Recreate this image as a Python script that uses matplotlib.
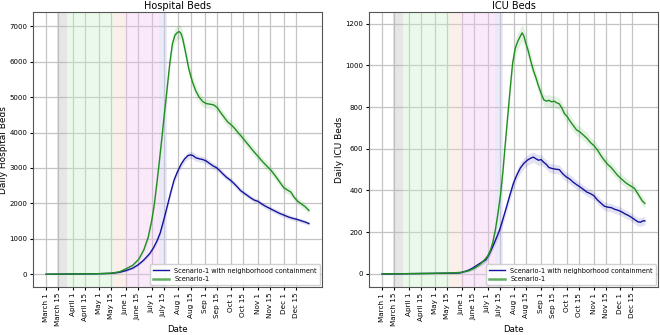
import matplotlib
matplotlib.use("Agg")
import matplotlib.pyplot as plt

# days counted from March 1
tick_days = [0, 14, 31, 45, 61, 75, 92, 106, 122, 136, 153, 167, 184, 198, 214, 228, 245, 259, 275, 289]
tick_labels = ["March 1", "March 15", "April 1", "April 15", "May 1", "May 15", "June 1", "June 15",
               "July 1", "July 15", "Aug 1", "Aug 15", "Sep 1", "Sep 15", "Oct 1", "Oct 15",
               "Nov 1", "Nov 15", "Dec 1", "Dec 15"]

# shaded phases (start day, end day, colour)
phases = [(13, 24, "#b8b8b8"), (24, 77, "#c4efc4"), (77, 92, "#f6d6c0"),
          (92, 131, "#f0c0f0"), (131, 140, "#c8c4f0")]

# (day, value, band half width)
hosp_contain = [
    (0, 0, 10), (20, 5, 10), (40, 10, 10), (60, 15, 10), (75, 25, 15), (85, 55, 20), (92, 100, 25),
    (100, 170, 30), (106, 260, 35), (112, 380, 40), (116, 480, 45), (120, 590, 50), (124, 740, 60),
    (128, 930, 70), (132, 1170, 80), (136, 1530, 90), (140, 1910, 100), (144, 2300, 100),
    (148, 2660, 100), (152, 2900, 100), (156, 3100, 100), (160, 3250, 100), (164, 3350, 100),
    (167, 3370, 100), (170, 3350, 100), (173, 3290, 100), (177, 3260, 90), (181, 3240, 90),
    (185, 3200, 90), (189, 3130, 90), (193, 3060, 90), (197, 3010, 90), (201, 2920, 80),
    (205, 2820, 80), (209, 2730, 80), (213, 2660, 80), (217, 2570, 80), (221, 2470, 80),
    (225, 2360, 80), (229, 2290, 70), (233, 2220, 70), (237, 2150, 70), (241, 2090, 70),
    (245, 2060, 70), (249, 1990, 70), (253, 1930, 70), (257, 1880, 70), (261, 1830, 70),
    (265, 1780, 70), (270, 1720, 70), (275, 1670, 70), (280, 1620, 70), (285, 1580, 60),
    (290, 1550, 60), (295, 1510, 60), (300, 1470, 60), (304, 1430, 60)]

hosp_s1 = [
    (0, 0, 10), (20, 5, 10), (40, 10, 10), (60, 15, 10), (75, 30, 15), (85, 70, 20), (92, 150, 25),
    (100, 250, 35), (107, 420, 50), (113, 690, 70), (118, 1040, 90), (122, 1500, 110),
    (125, 1950, 125), (128, 2550, 140), (131, 3200, 150), (134, 3880, 160), (137, 4580, 170),
    (140, 5250, 180), (143, 5950, 190), (146, 6500, 200), (149, 6750, 200), (152, 6830, 200),
    (154, 6850, 200), (156, 6800, 200), (158, 6650, 200), (161, 6300, 190), (165, 5800, 180),
    (169, 5450, 170), (173, 5180, 160), (177, 5000, 150), (181, 4880, 140), (185, 4820, 130),
    (190, 4800, 130), (194, 4780, 130), (198, 4700, 130), (202, 4560, 130), (206, 4430, 130),
    (210, 4300, 130), (214, 4220, 130), (218, 4120, 130), (222, 4000, 130), (226, 3890, 130),
    (230, 3770, 130), (235, 3620, 120), (240, 3470, 120), (245, 3330, 120), (250, 3190, 120),
    (255, 3060, 120), (260, 2940, 120), (265, 2780, 110), (270, 2610, 110), (275, 2440, 110),
    (279, 2380, 110), (283, 2320, 110), (287, 2170, 100), (291, 2060, 100), (295, 1990, 100),
    (300, 1900, 100), (304, 1800, 100)]

icu_contain = [
    (0, 0, 3), (20, 1, 3), (40, 2, 3), (60, 3, 3), (80, 4, 3), (90, 5, 4), (100, 18, 6), (105, 29, 8),
    (110, 42, 10), (115, 55, 12), (120, 68, 14), (124, 95, 16), (128, 131, 18), (132, 170, 20),
    (136, 211, 22), (140, 265, 24), (144, 322, 25), (148, 380, 25), (152, 435, 25), (156, 475, 25),
    (160, 508, 25), (164, 530, 25), (168, 545, 25), (172, 555, 25), (175, 560, 25), (178, 552, 25),
    (181, 545, 25), (184, 548, 25), (187, 535, 22), (190, 525, 22), (193, 510, 22), (197, 505, 22),
    (201, 502, 22), (205, 500, 22), (209, 480, 22), (213, 465, 22), (217, 455, 22), (221, 440, 22),
    (225, 428, 22), (229, 417, 20), (233, 405, 20), (237, 392, 20), (241, 385, 20), (245, 375, 20),
    (249, 355, 20), (253, 340, 20), (257, 325, 20), (261, 320, 20), (265, 318, 20), (269, 310, 20),
    (273, 305, 20), (277, 298, 20), (281, 288, 20), (285, 280, 20), (289, 270, 20), (293, 258, 20),
    (296, 250, 20), (299, 248, 20), (302, 255, 20), (304, 254, 20)]

icu_s1 = [
    (0, 0, 3), (20, 1, 3), (40, 2, 3), (60, 3, 3), (80, 5, 3), (92, 8, 4), (100, 15, 6), (107, 28, 8),
    (113, 45, 10), (118, 65, 12), (122, 85, 14), (125, 110, 16), (128, 150, 18), (131, 210, 20),
    (134, 290, 22), (137, 380, 25), (140, 500, 28), (142, 600, 30), (145, 740, 32), (148, 880, 35),
    (151, 1010, 38), (154, 1080, 40), (157, 1115, 40), (160, 1140, 40), (162, 1155, 40),
    (164, 1140, 40), (166, 1110, 38), (169, 1070, 36), (172, 1020, 34), (175, 975, 32), (178, 940, 30),
    (181, 900, 30), (184, 865, 28), (187, 835, 28), (190, 828, 28), (193, 832, 28), (196, 825, 28),
    (199, 828, 28), (202, 820, 28), (205, 815, 28), (208, 795, 28), (211, 768, 28), (214, 755, 28),
    (217, 735, 28), (221, 712, 28), (225, 690, 26), (229, 680, 26), (233, 665, 26), (237, 650, 26),
    (241, 630, 26), (245, 615, 26), (249, 595, 26), (253, 568, 26), (257, 545, 24), (261, 525, 24),
    (265, 510, 24), (269, 490, 24), (273, 470, 24), (277, 455, 24), (281, 440, 24), (285, 428, 24),
    (289, 418, 24), (292, 410, 22), (295, 390, 22), (298, 370, 22), (301, 350, 22), (304, 338, 22)]

BLUE = "#14149e"
GREEN = "#1f8f1f"


def draw_series(ax, rows, color, label, band_alpha):
    days, vals, spread = zip(*rows)
    lo = [v - s for v, s in zip(vals, spread)]
    hi = [v + s for v, s in zip(vals, spread)]
    ax.fill_between(days, lo, hi, color=color, alpha=band_alpha, linewidth=0, zorder=2)
    ax.plot(days, vals, color=color, linewidth=1.0, label=label, zorder=3)


def setup_panel(ax, title, ylabel, contain, s1):
    for start, end, col in phases:
        ax.axvspan(start, end, color=col, alpha=0.35, linewidth=0, zorder=1)
    draw_series(ax, contain, BLUE, "Scenario-1 with neighborhood containment", 0.12)
    draw_series(ax, s1, GREEN, "Scenario-1", 0.12)
    ax.set_title(title, fontsize=7, pad=2)
    ax.set_ylabel(ylabel, fontsize=6.5, labelpad=1)
    ax.set_xlabel("Date", fontsize=6.2, va="top")
    ax.xaxis.set_label_coords(0.5, -0.138)
    ax.set_xticks(tick_days)
    ax.set_xticklabels(tick_labels, rotation=90, fontsize=5.2)
    ax.tick_params(axis="y", labelsize=5, length=2.5, pad=1.5)
    ax.tick_params(axis="x", length=2.5, pad=1.5)
    ax.grid(True, color="#c4c4c4", linewidth=0.9)
    ax.set_axisbelow(True)
    for sp in ax.spines.values():
        sp.set_color("#555555")
        sp.set_linewidth(0.8)
    leg = ax.legend(loc="lower right", fontsize=4.7, frameon=True, handlelength=2.4,
                    borderpad=0.5, labelspacing=0.35, fancybox=True, framealpha=0.9,
                    edgecolor="#cccccc", borderaxespad=0.3)
    leg.legend_handles[1].set_linewidth(1.8)
    leg.legend_handles[1].set_alpha(0.7)


fig = plt.figure(figsize=(6.6, 3.35), dpi=100)
ax1 = fig.add_axes([0.05, 0.143, 0.438, 0.821])
ax2 = fig.add_axes([0.559, 0.143, 0.438, 0.821])

setup_panel(ax1, "Hospital Beds", "Daily Hospital Beds", hosp_contain, hosp_s1)
setup_panel(ax2, "ICU Beds", "Daily ICU Beds", icu_contain, icu_s1)

fig.savefig("out.png", dpi=100)
